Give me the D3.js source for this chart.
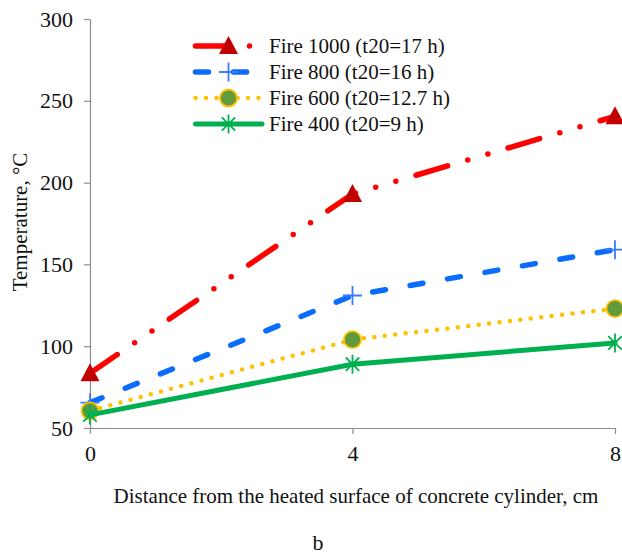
<!DOCTYPE html>
<html>
<head>
<meta charset="utf-8">
<script src="https://cdn.jsdelivr.net/npm/d3@7"></script>
<style>
  body { margin: 0; background: #fff; }
  svg text { font-family: "Liberation Serif", "Times New Roman", serif; }
</style>
</head>
<body>
<svg width="622" height="556"></svg>
<script>
// data
const distances = [0, 4, 8];
const fire1000 = [83.5, 193, 240.5];
const fire800 = [65.5, 131, 159];
const fire600 = [60.5, 104, 123];
const fire400 = [58, 89, 102];
const seriesNames = ['Fire 1000 (t20=17 h)', 'Fire 800 (t20=16 h)', 'Fire 600 (t20=12.7 h)', 'Fire 400 (t20=9 h)'];
const yTicks = [50, 100, 150, 200, 250, 300];
const xTicks = [0, 4, 8];

const serif = '"Liberation Serif", "Times New Roman", serif';
const svg = d3.select('svg');

const xScale = d3.scaleLinear().domain([0, 8]).range([90, 615]);
const yScale = d3.scaleLinear().domain([50, 300]).range([428, 19]);

// styles for each series
const styles = [
    { color: '#ff0000', width: 5.5, dash: '33,21,0,21,0,21', marker: 'triangle' },
    { color: '#0a6cff', width: 5.5, dash: '13,25', marker: 'plus' },
    { color: '#ffc000', width: 4.5, dash: '0,10.5', marker: 'circle' },
    { color: '#00b050', width: 5, dash: null, marker: 'star' }
];

const allValues = [fire1000, fire800, fire600, fire400];

// axes
const xAxis = d3.axisBottom(xScale).tickValues(xTicks).tickSize(6).tickSizeOuter(0).tickPadding(11);
const yAxis = d3.axisLeft(yScale).tickValues(yTicks).tickSize(6).tickSizeOuter(0).tickPadding(11);

const gx = svg.append('g')
    .attr('transform', 'translate(0,' + yScale(50) + ')')
    .call(xAxis);
const gy = svg.append('g')
    .attr('transform', 'translate(' + xScale(0) + ',0)')
    .call(yAxis);

[gx, gy].forEach(g => {
    g.attr('font-family', serif);
    g.selectAll('path, line').attr('stroke', '#8c8c8c').attr('stroke-width', 1.2);
    g.selectAll('text').attr('font-size', 22).attr('fill', '#111').attr('font-family', serif);
});

// draw a marker shape at (x, y)
function drawMarker(g, type, x, y) {
    if (type === 'triangle') {
        g.append('path')
            .attr('d', 'M' + x + ',' + (y - 10) + 'L' + (x + 9.5) + ',' + (y + 8) + 'L' + (x - 9.5) + ',' + (y + 8) + 'Z')
            .attr('fill', '#c00000');
    } else if (type === 'plus') {
        g.append('path')
            .attr('d', 'M' + (x - 9.5) + ',' + y + 'H' + (x + 9.5) + 'M' + x + ',' + (y - 9.5) + 'V' + (y + 9.5))
            .attr('stroke', '#3a7bff').attr('stroke-width', 1.8).attr('fill', 'none');
    } else if (type === 'circle') {
        g.append('circle')
            .attr('cx', x).attr('cy', y).attr('r', 8.5)
            .attr('fill', '#629a3e').attr('stroke', '#ffc000').attr('stroke-width', 1.8);
    } else if (type === 'star') {
        const s = 9.5, d = 6.7;
        g.append('path')
            .attr('d', 'M' + x + ',' + (y - s) + 'V' + (y + s) +
                'M' + (x - d) + ',' + (y - d) + 'L' + (x + d) + ',' + (y + d) +
                'M' + (x + d) + ',' + (y - d) + 'L' + (x - d) + ',' + (y + d))
            .attr('stroke', '#00b050').attr('stroke-width', 1.8).attr('fill', 'none');
    }
}

const line = d3.line()
    .x((d, i) => xScale(distances[i]))
    .y(d => yScale(d));

allValues.forEach((vals, k) => {
    const st = styles[k];
    const g = svg.append('g');
    const p = g.append('path')
        .datum(vals)
        .attr('d', line)
        .attr('fill', 'none')
        .attr('stroke', st.color)
        .attr('stroke-width', st.width)
        .attr('stroke-linecap', 'round');
    if (st.dash) p.attr('stroke-dasharray', st.dash);
    vals.forEach((v, i) => drawMarker(g, st.marker, xScale(distances[i]), yScale(v)));
});

// legend
const legend = svg.append('g');
const rowY = [46, 72, 98, 124];
seriesNames.forEach((name, k) => {
    const st = styles[k];
    const y = rowY[k];
    const p = legend.append('line')
        .attr('x1', 195.5).attr('x2', 262)
        .attr('y1', y).attr('y2', y)
        .attr('stroke', st.color)
        .attr('stroke-width', st.width)
        .attr('stroke-linecap', 'round');
    if (st.dash) p.attr('stroke-dasharray', st.dash);
    drawMarker(legend, st.marker, 228.5, y);
    legend.append('text')
        .attr('x', 269).attr('y', y + 7)
        .attr('font-size', 21)
        .attr('font-family', serif)
        .attr('fill', '#111')
        .text(name);
});

// axis titles
svg.append('text')
    .attr('x', 356).attr('y', 503)
    .attr('text-anchor', 'middle')
    .attr('font-size', 21)
    .attr('font-family', serif)
    .attr('fill', '#111')
    .text('Distance from the heated surface of concrete cylinder, cm');

svg.append('text')
    .attr('transform', 'translate(27,222) rotate(-90)')
    .attr('text-anchor', 'middle')
    .attr('font-size', 21)
    .attr('font-family', serif)
    .attr('fill', '#111')
    .text('Temperature, °C');

svg.append('text')
    .attr('x', 318).attr('y', 550)
    .attr('text-anchor', 'middle')
    .attr('font-size', 22)
    .attr('font-family', serif)
    .attr('fill', '#111')
    .text('b');
</script>
</body>
</html>
